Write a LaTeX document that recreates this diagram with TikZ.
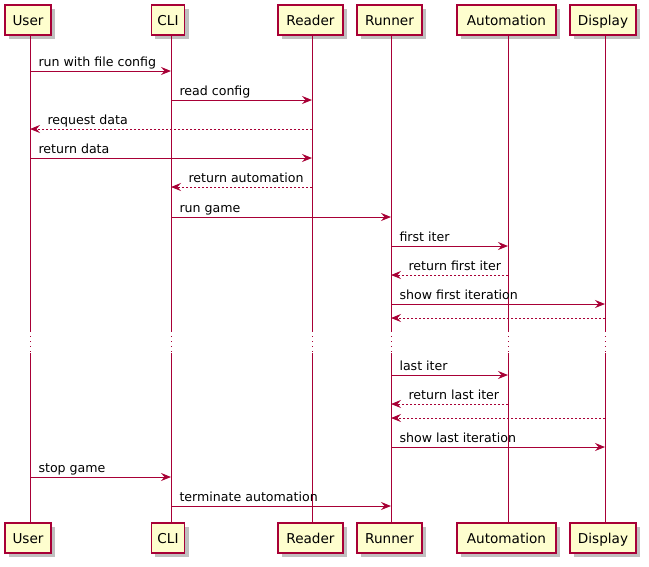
\documentclass[tikz,border=0pt]{standalone}
\usepackage{fontspec}
\setmainfont{DejaVu Sans}
\usetikzlibrary{arrows.meta,shadows}

\definecolor{umlred}{HTML}{A80036}
\definecolor{umlfill}{HTML}{FEFECE}

\tikzset{
  actor/.style={draw=umlred, fill=umlfill, line width=1.5pt, minimum height=30pt,
    inner xsep=6pt, inner ysep=0pt, text height=10pt, text depth=0pt,
    font=\fontsize{13.6}{16}\selectfont,
    drop shadow={shadow xshift=4pt, shadow yshift=-4pt, opacity=0.45, fill=black!55}},
  life/.style={draw=umlred, line width=1pt},
  delay/.style={life, dash pattern=on 1pt off 4pt},
  call/.style={draw=umlred, line width=1pt, -{Stealth[length=10pt,width=8pt,inset=3.5pt]}},
  reply/.style={call, dash pattern=on 2pt off 2pt},
  msg/.style={anchor=base west, inner sep=0pt, yshift=5pt, font=\fontsize{12.6}{15}\selectfont},
}

\begin{document}
\begin{tikzpicture}[x=1pt, y=-1pt]
 \useasboundingbox (0,0) rectangle (649,566);

 % lifeline tops
 \coordinate (user) at (30,35);
 \coordinate (cli) at (171,35);
 \coordinate (reader) at (312,35);
 \coordinate (runner) at (391,35);
 \coordinate (auto) at (508,35);
 \coordinate (disp) at (605,35);

 % participants, top and bottom
 \node[actor, minimum width=46pt] (userT) at (28,20) {User};
 \node[actor, minimum width=33pt] (cliT) at (168,20) {CLI};
 \node[actor, minimum width=65pt] (readerT) at (310.5,20) {Reader};
 \node[actor, minimum width=65pt] (runnerT) at (389.5,20) {Runner};
 \node[actor, minimum width=99pt] (autoT) at (506.5,20) {Automation};
 \node[actor, minimum width=66pt] (dispT) at (603,20) {Display};

 \node[actor, minimum width=46pt] (userB) at (28,538) {User};
 \node[actor, minimum width=33pt] (cliB) at (168,538) {CLI};
 \node[actor, minimum width=65pt] (readerB) at (310.5,538) {Reader};
 \node[actor, minimum width=65pt] (runnerB) at (389.5,538) {Runner};
 \node[actor, minimum width=99pt] (autoB) at (506.5,538) {Automation};
 \node[actor, minimum width=66pt] (dispB) at (603,538) {Display};

 % lifelines with the dotted break
 \foreach \p in {user,cli,reader,runner,auto,disp} {
   \draw[life] (\p |- \p T.south) -- (\p |- 0,331);
   \draw[delay] (\p |- 0,331) -- (\p |- 0,353);
   \draw[life] (\p |- 0,353) -- (\p |- \p B.north);
 }

 % messages
 \draw[call] (user |- 0,71) node[msg, xshift=8pt] {run with file config} -- (cli |- 0,71);
 \draw[call] (cli |- 0,100) node[msg, xshift=8pt] {read config} -- (reader |- 0,100);
 \draw[reply] (reader |- 0,129) -- (user |- 0,129) node[msg, xshift=17pt] {request data};
 \draw[call] (user |- 0,158) node[msg, xshift=8pt] {return data} -- (reader |- 0,158);
 \draw[reply] (reader |- 0,187) -- (cli |- 0,187) node[msg, xshift=17pt] {return automation};
 \draw[call] (cli |- 0,217) node[msg, xshift=8pt] {run game} -- (runner |- 0,217);
 \draw[call] (runner |- 0,246) node[msg, xshift=8pt] {first iter} -- (auto |- 0,246);
 \draw[reply] (auto |- 0,275) -- (runner |- 0,275) node[msg, xshift=17pt] {return first iter};
 \draw[call] (runner |- 0,304) node[msg, xshift=8pt] {show first iteration} -- (disp |- 0,304);
 \draw[reply] (disp |- 0,318) -- (runner |- 0,318);

 \draw[call] (runner |- 0,375) node[msg, xshift=8pt] {last iter} -- (auto |- 0,375);
 \draw[reply] (auto |- 0,404) -- (runner |- 0,404) node[msg, xshift=17pt] {return last iter};
 \draw[reply] (disp |- 0,418) -- (runner |- 0,418);
 \draw[call] (runner |- 0,447) node[msg, xshift=8pt] {show last iteration} -- (disp |- 0,447);
 \draw[call] (user |- 0,477) node[msg, xshift=8pt] {stop game} -- (cli |- 0,477);
 \draw[call] (cli |- 0,506) node[msg, xshift=8pt] {terminate automation} -- (runner |- 0,506);

\end{tikzpicture}
\end{document}
